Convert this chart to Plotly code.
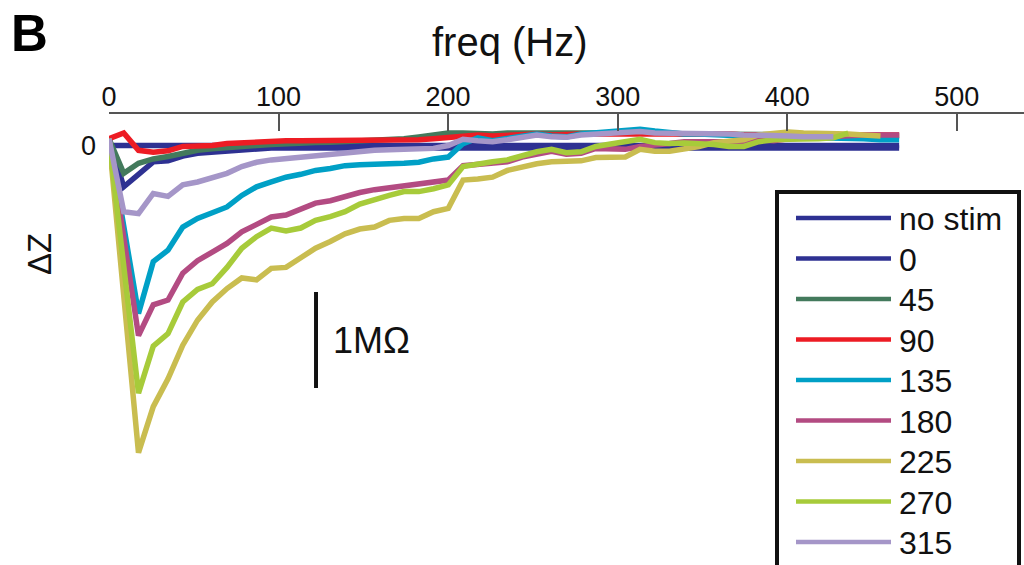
import plotly.graph_objects as go

# ---------------- data ----------------
freq = [0, 8.7, 17.4, 26.1, 34.8, 43.5, 52.2, 60.9, 69.6, 78.3,
        87.0, 95.7, 104.4, 113.1, 121.8, 130.5, 139.2, 147.9, 156.6, 165.3,
        174.0, 182.7, 191.4, 200.1, 208.8, 217.5, 226.2, 234.9, 243.6, 252.3,
        261.0, 269.7, 278.4, 287.1, 295.8, 304.5, 313.2, 321.9, 330.6, 339.3,
        348.0, 356.8, 365.6, 374.4, 383.2, 392.0, 400.8, 409.6, 418.4, 427.2,
        436.0, 445.0, 455.0, 466.0]

labels = ["no stim", "0", "45", "90", "135", "180", "225", "270", "315"]
colors = ["#2e3192", "#2e3192", "#437a5c", "#ed1c24", "#00a0c6",
          "#b34b82", "#c9bd50", "#a7cb3a", "#a596c8"]

dz_nostim = [0.0, 0.0, 0.0, 0.0, 0.0, 0.0, 0.0, 0.0, 0.0, 0.0,
             0.0, 0.0, 0.0, 0.0, 0.0, 0.0, 0.0, 0.0, 0.0, 0.0,
             0.0, 0.0, 0.0, 0.0, 0.0, 0.0, 0.0, 0.0, 0.0, 0.0,
             0.0, 0.0, 0.0, 0.0, 0.0, 0.0, 0.0, 0.0, 0.0, 0.0,
             0.0, 0.0, 0.0, 0.0, 0.0, 0.0, 0.0, 0.0, 0.0, 0.0,
             0.0, 0.0, 0.0, 0.0]

dz_0 = [0.07, -0.43, -0.30, -0.17, -0.16, -0.11, -0.08, -0.07, -0.05, -0.04,
        -0.03, -0.025, -0.025, -0.025, -0.025, -0.025, -0.025, -0.025, -0.025, -0.025,
        -0.025, -0.025, -0.025, -0.025, -0.025, -0.025, -0.025, -0.025, -0.025, -0.025,
        -0.025, -0.025, -0.025, -0.025, -0.025, -0.025, -0.025, -0.025, -0.025, -0.025,
        -0.025, -0.025, -0.025, -0.025, -0.025, -0.025, -0.025, -0.025, -0.025, -0.025,
        -0.025, -0.025, -0.025, -0.025]

dz_45 = [0.07, -0.29, -0.185, -0.14, -0.115, -0.08, -0.05, -0.035, -0.02, -0.01,
         0.0, 0.01, 0.02, 0.025, 0.03, 0.035, 0.04, 0.045, 0.05, 0.06,
         0.07, 0.09, 0.11, 0.13, 0.13, 0.12, 0.12, 0.13, 0.13, 0.12,
         0.13, 0.12, 0.12, 0.13, 0.13, 0.14, 0.14, 0.13, 0.13, 0.12,
         0.12, 0.12, 0.12, 0.12, 0.11, 0.11, 0.11, 0.11, 0.11, 0.11,
         0.11, 0.10, 0.10, 0.10]

dz_90 = [0.07, 0.13, -0.05, -0.07, -0.055, -0.01, -0.005, 0.0, 0.02, 0.03,
         0.04, 0.045, 0.05, 0.05, 0.05, 0.05, 0.05, 0.05, 0.05, 0.05,
         0.05, 0.06, 0.07, 0.08, 0.09, 0.11, 0.10, 0.11, 0.12, 0.12,
         0.11, 0.12, 0.12, 0.12, 0.12, 0.12, 0.13, 0.12, 0.12, 0.12,
         0.12, 0.12, 0.12, 0.11, 0.11, 0.11, 0.11, 0.12, 0.11, 0.11,
         0.11, 0.11, 0.11, 0.11]

dz_135 = [0.07, -0.84, -1.75, -1.21, -1.09, -0.85, -0.76, -0.70, -0.64, -0.52,
          -0.43, -0.38, -0.33, -0.30, -0.26, -0.24, -0.21, -0.20, -0.19, -0.19,
          -0.185, -0.175, -0.14, -0.12, 0.02, 0.08, 0.05, 0.07, 0.10, 0.12,
          0.10, 0.09, 0.12, 0.13, 0.15, 0.16, 0.17, 0.15, 0.13, 0.12,
          0.12, 0.11, 0.11, 0.10, 0.10, 0.10, 0.09, 0.09, 0.08, 0.08,
          0.07, 0.07, 0.06, 0.06]

dz_180 = [0.07, -0.96, -1.98, -1.66, -1.61, -1.33, -1.20, -1.11, -1.02, -0.90,
          -0.82, -0.745, -0.725, -0.66, -0.60, -0.575, -0.53, -0.49, -0.46, -0.44,
          -0.42, -0.41, -0.39, -0.36, -0.21, -0.20, -0.19, -0.17, -0.12, -0.085,
          -0.06, -0.09, -0.08, -0.03, -0.04, -0.04, -0.01, 0.0, 0.02, 0.04,
          0.04, 0.04, 0.04, 0.04, 0.06, 0.05, 0.07, 0.08, 0.08, 0.09,
          0.10, 0.11, 0.11, 0.11]

dz_225 = [0.07, -1.57, -3.20, -2.72, -2.43, -2.08, -1.82, -1.63, -1.49, -1.38,
          -1.40, -1.28, -1.27, -1.17, -1.07, -1.00, -0.92, -0.87, -0.85, -0.78,
          -0.76, -0.76, -0.69, -0.655, -0.36, -0.35, -0.33, -0.26, -0.22, -0.19,
          -0.17, -0.16, -0.16, -0.125, -0.12, -0.12, -0.04, -0.06, -0.06, -0.04,
          -0.01, 0.03, 0.05, 0.06, 0.11, 0.13, 0.14, 0.13, 0.13, 0.13,
          0.12, 0.11, 0.10]

dz_270 = [0.07, -1.26, -2.58, -2.09, -1.96, -1.63, -1.50, -1.44, -1.27, -1.07,
          -0.95, -0.86, -0.89, -0.86, -0.78, -0.74, -0.69, -0.61, -0.56, -0.52,
          -0.48, -0.48, -0.45, -0.41, -0.22, -0.19, -0.17, -0.15, -0.10, -0.065,
          -0.04, -0.075, -0.065, -0.01, 0.015, 0.04, 0.065, 0.03, 0.02, 0.025,
          0.02, 0.01, -0.01, -0.01, 0.04, 0.06, 0.065, 0.065, 0.07, 0.08,
          0.13]

dz_315 = [0.07, -0.69, -0.71, -0.50, -0.53, -0.41, -0.38, -0.34, -0.29, -0.22,
          -0.175, -0.15, -0.135, -0.12, -0.10, -0.09, -0.07, -0.06, -0.05, -0.045,
          -0.04, -0.04, -0.03, 0.0, 0.065, 0.05, 0.04, 0.06, 0.08, 0.11,
          0.09, 0.085, 0.11, 0.12, 0.13, 0.14, 0.145, 0.13, 0.13, 0.13,
          0.12, 0.12, 0.12, 0.11, 0.11, 0.10, 0.10, 0.09, 0.09, 0.09]

series = [dz_nostim, dz_0, dz_45, dz_90, dz_135, dz_180, dz_225, dz_270, dz_315]

x_ticks = [0, 100, 200, 300, 400, 500]
scale_bar_mohm = 1.0

# ---------------- layout geometry ----------------
W, H = 1024, 565
ML, MR, MT, MB = 109, 0, 114, 0
PX_PER_HZ = 1.6956
PX_PER_MOHM = 96.0
ZERO_PX = 145.5

x_range = [0, (W - ML - MR) / PX_PER_HZ]
y_range = [-(H - MB - ZERO_PX) / PX_PER_MOHM, (ZERO_PX - MT) / PX_PER_MOHM]

FONT = "Liberation Sans, Arial, Helvetica, sans-serif"


def pxx(px):
    return (px - ML) / (W - ML - MR)


def pxy(py):
    return (H - MB - py) / (H - MB - MT)


fig = go.Figure()
for name, col, vals in zip(labels, colors, series):
    fig.add_trace(go.Scatter(
        x=freq[:len(vals)], y=vals, mode="lines", name=name,
        line=dict(color=col, width=5.5),
        showlegend=False, hoverinfo="skip"))

shapes = []
annotations = []

# scale bar (1 MΩ) in data units
sb_x = 122.1
sb_top = -1.526
shapes.append(dict(type="line", xref="x", yref="y", x0=sb_x, x1=sb_x,
                   y0=sb_top, y1=sb_top - scale_bar_mohm,
                   line=dict(color="#111111", width=4)))
annotations.append(dict(xref="x", yref="y", x=sb_x + 9.0, y=sb_top - scale_bar_mohm / 2,
                        text="1MΩ", showarrow=False, xanchor="left", yanchor="middle",
                        font=dict(size=36, color="#111111", family=FONT)))

# y zero label
annotations.append(dict(xref="paper", yref="y", x=pxx(98), y=0, text="0",
                        showarrow=False, xanchor="right", yanchor="middle",
                        font=dict(size=27, color="#111111", family=FONT)))
# y title
annotations.append(dict(xref="paper", yref="paper", x=pxx(39), y=pxy(254), text="ΔZ",
                        textangle=-90, showarrow=False, xanchor="center", yanchor="middle",
                        font=dict(size=33, color="#111111", family=FONT)))
# x title
annotations.append(dict(xref="paper", yref="paper", x=pxx(510), y=pxy(42), text="freq (Hz)",
                        showarrow=False, xanchor="center", yanchor="middle",
                        font=dict(size=40, color="#111111", family=FONT)))
# panel letter
annotations.append(dict(xref="paper", yref="paper", x=pxx(9), y=pxy(34), text="<b>B</b>",
                        showarrow=False, xanchor="left", yanchor="middle",
                        font=dict(size=51, color="#000000", family=FONT)))

# manual legend
shapes.append(dict(type="rect", xref="paper", yref="paper",
                   x0=pxx(777), x1=pxx(1019), y0=pxy(192), y1=pxy(620),
                   line=dict(color="#111111", width=4), fillcolor="white", layer="above"))
for k, (name, col) in enumerate(zip(labels, colors)):
    yc = 218 + 40.5 * k
    shapes.append(dict(type="line", xref="paper", yref="paper",
                       x0=pxx(796), x1=pxx(891), y0=pxy(yc), y1=pxy(yc),
                       line=dict(color=col, width=4.5), layer="above"))
    annotations.append(dict(xref="paper", yref="paper", x=pxx(897), y=pxy(yc + 1),
                            text=name, showarrow=False, xanchor="left", yanchor="middle",
                            font=dict(size=32, color="#111111", family=FONT)))

fig.update_layout(
    width=W, height=H, autosize=False,
    margin=dict(l=ML, r=MR, t=MT, b=MB, pad=0),
    paper_bgcolor="white", plot_bgcolor="white",
    showlegend=False,
    font=dict(family=FONT, color="#111111"),
    xaxis=dict(side="top", range=x_range, tickvals=x_ticks,
               showline=True, linecolor="#555555", linewidth=1.5,
               ticks="inside", ticklen=17, tickwidth=1.5, tickcolor="#555555",
               ticklabelstandoff=-5,
               tickfont=dict(size=27, color="#111111", family=FONT),
               showgrid=False, zeroline=False, fixedrange=True),
    yaxis=dict(range=y_range, visible=False, showgrid=False, zeroline=False,
               fixedrange=True),
    shapes=shapes, annotations=annotations,
)

fig.write_html("out.html", config={"displayModeBar": False})
